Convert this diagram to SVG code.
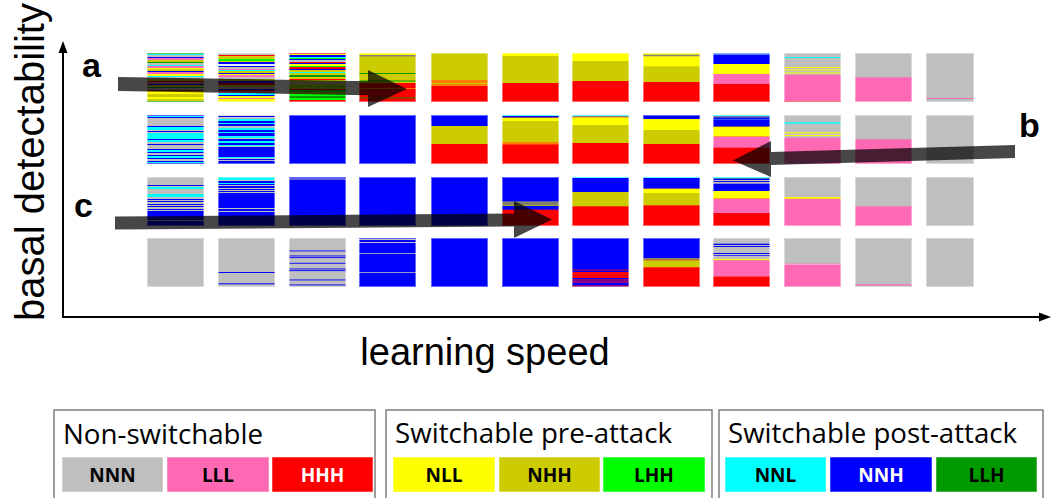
<svg xmlns="http://www.w3.org/2000/svg" width="1056" height="498" viewBox="0 0 1056 498">
<style>
.g{fill:#bfbfbf}.p{fill:#ff69b4}.r{fill:#ff0000}.y{fill:#ffff00}.o{fill:#cccc00}.l{fill:#00ff00}.c{fill:#00ffff}.b{fill:#0000ff}.d{fill:#009900}.k{fill:#808080}.n{fill:#ff8000}.v{fill:#8b008b}.w{fill:#e6f2ff}.s{fill:#3f7fff}.q{fill:#ff9fd0}
.edge{fill:none;stroke:#fff;stroke-opacity:.4;stroke-width:1}
.arrow{fill:#000;fill-opacity:.72}
.axis{stroke:#000;stroke-width:2;fill:none}
.lbl{font-family:"Liberation Sans",Arial,sans-serif;fill:#000}
.ab{font-family:"Liberation Sans",Arial,sans-serif;font-weight:bold;font-size:34px;fill:#000}
.lt{font-family:"Open Sans","Noto Sans",sans-serif;font-size:27px;fill:#000}
.sw{font-family:"Open Sans","Noto Sans",sans-serif;font-weight:bold;font-size:19px;text-anchor:middle}
.box{fill:#fff;stroke:#7f7f7f;stroke-width:1.5}
.swe{stroke:#fff;stroke-opacity:.5;stroke-width:1}
</style>

<g id="axes">
<line class="axis" x1="63" y1="318" x2="63" y2="50"/>
<polygon points="63,41 58.5,53 67.5,53" fill="#000"/>
<line class="axis" x1="62" y1="317" x2="1042" y2="317"/>
<polygon points="1051,317 1039,312.5 1039,321.5" fill="#000"/>
<text class="lbl" font-size="40" text-anchor="middle" transform="translate(44,162) rotate(-90)">basal detectability</text>
<text class="lbl" font-size="38" text-anchor="middle" x="485" y="365">learning speed</text>
</g>

<g id="grid">
<!-- Row 1 -->
<g id="r1c1" transform="translate(147,53)">
<rect width="57" height="49" class="o"/>
<rect y="0" width="57" height="1" class="d"/><rect y="1" width="57" height="1" class="c"/><rect y="2" width="57" height="2" class="g"/><rect y="4" width="57" height="1" class="b"/><rect y="5" width="57" height="2" class="p"/><rect y="7" width="57" height="2" class="o"/><rect y="9" width="57" height="1" class="d"/><rect y="10" width="57" height="2" class="g"/><rect y="12" width="57" height="1" class="c"/><rect y="13" width="57" height="2" class="p"/><rect y="15" width="57" height="1" class="y"/><rect y="16" width="57" height="2" class="o"/><rect y="18" width="57" height="1" class="b"/><rect y="19" width="57" height="2" class="p"/><rect y="21" width="57" height="2" class="y"/><rect y="23" width="57" height="1" class="c"/><rect y="24" width="57" height="2" class="g"/><rect y="26" width="57" height="2" class="o"/><rect y="28" width="57" height="1" class="r"/><rect y="29" width="57" height="2" class="p"/><rect y="31" width="57" height="1" class="b"/><rect y="32" width="57" height="2" class="o"/><rect y="34" width="57" height="1" class="d"/><rect y="35" width="57" height="2" class="g"/><rect y="37" width="57" height="1" class="r"/><rect y="38" width="57" height="3" class="y"/><rect y="41" width="57" height="3" class="o"/><rect y="44" width="57" height="2" class="y"/><rect y="46" width="57" height="2" class="o"/><rect y="48" width="57" height="1" class="d"/>
<rect class="edge" x="0.5" y="0.5" width="56" height="48"/>
</g>
<g id="r1c2" transform="translate(218,53)">
<rect width="57" height="49" class="y"/>
<rect y="0" width="57" height="2" class="g"/><rect y="2" width="57" height="1" class="r"/><rect y="3" width="57" height="3" class="o"/><rect y="6" width="57" height="2" class="l"/><rect y="8" width="57" height="1" class="o"/><rect y="9" width="57" height="2" class="b"/><rect y="11" width="57" height="2" class="w"/><rect y="13" width="57" height="1" class="b"/><rect y="14" width="57" height="2" class="g"/><rect y="16" width="57" height="1" class="p"/><rect y="17" width="57" height="1" class="c"/><rect y="18" width="57" height="2" class="o"/><rect y="20" width="57" height="1" class="b"/><rect y="21" width="57" height="1" class="y"/><rect y="22" width="57" height="2" class="p"/><rect y="24" width="57" height="2" class="g"/><rect y="26" width="57" height="2" class="o"/><rect y="28" width="57" height="2" class="b"/><rect y="30" width="57" height="2" class="r"/><rect y="32" width="57" height="2" class="o"/><rect y="34" width="57" height="2" class="g"/><rect y="36" width="57" height="1" class="b"/><rect y="37" width="57" height="1" class="r"/><rect y="38" width="57" height="2" class="p"/><rect y="40" width="57" height="2" class="c"/><rect y="42" width="57" height="1" class="b"/><rect y="43" width="57" height="2" class="y"/><rect y="45" width="57" height="1" class="p"/>
<rect class="edge" x="0.5" y="0.5" width="56" height="48"/>
</g>
<g id="r1c3" transform="translate(289,53)">
<rect width="57" height="49" class="o"/>
<rect y="0" width="57" height="1" class="r"/><rect y="1" width="57" height="1" class="y"/><rect y="2" width="57" height="2" class="b"/><rect y="4" width="57" height="1" class="c"/><rect y="5" width="57" height="1" class="l"/><rect y="6" width="57" height="1" class="b"/><rect y="7" width="57" height="2" class="g"/><rect y="9" width="57" height="1" class="r"/><rect y="10" width="57" height="1" class="b"/><rect y="11" width="57" height="2" class="y"/><rect y="13" width="57" height="1" class="l"/><rect y="14" width="57" height="2" class="r"/><rect y="16" width="57" height="1" class="b"/><rect y="19" width="57" height="1" class="c"/><rect y="22" width="57" height="2" class="d"/><rect y="26" width="57" height="1" class="r"/><rect y="29" width="57" height="2" class="g"/><rect y="33" width="57" height="1" class="l"/><rect y="36" width="57" height="1" class="r"/><rect y="37" width="57" height="2" class="l"/><rect y="41" width="57" height="2" class="l"/><rect y="43" width="57" height="2" class="d"/><rect y="45" width="57" height="2" class="l"/><rect y="47" width="57" height="2" class="r"/>
<rect class="edge" x="0.5" y="0.5" width="56" height="48"/>
</g>
<g id="r1c4" transform="translate(359,53)">
<rect width="57" height="49" class="o"/>
<rect y="0" width="57" height="2" class="y"/><rect y="2" width="57" height="1.4" class="k"/><rect y="20" width="57" height="1" class="d"/><rect y="27.5" width="57" height="1" class="d"/><rect y="30" width="57" height="19" class="r"/><rect y="35" width="57" height="1" class="n"/><rect y="44.5" width="57" height="0.8" class="d"/>
<rect class="edge" x="0.5" y="0.5" width="56" height="48"/>
</g>
<g id="r1c5" transform="translate(431,53)">
<rect width="57" height="49" class="o"/>
<rect y="27" width="57" height="3" class="n"/><rect y="31" width="57" height="2" class="n"/><rect y="33" width="57" height="16" class="r"/>
<rect class="edge" x="0.5" y="0.5" width="56" height="48"/>
</g>
<g id="r1c6" transform="translate(502,53)">
<rect width="57" height="49" class="o"/>
<rect y="0" width="57" height="3" class="y"/><rect y="30" width="57" height="19" class="r"/>
<rect class="edge" x="0.5" y="0.5" width="56" height="48"/>
</g>
<g id="r1c7" transform="translate(572,53)">
<rect width="57" height="49" class="o"/>
<rect y="0" width="57" height="8" class="y"/><rect y="28" width="57" height="21" class="r"/>
<rect class="edge" x="0.5" y="0.5" width="56" height="48"/>
</g>
<g id="r1c8" transform="translate(643,53)">
<rect width="57" height="49" class="o"/>
<rect y="0" width="57" height="13.3" class="y"/><rect y="1.7" width="57" height="1.6" class="k"/><rect y="29" width="57" height="20" class="r"/>
<rect class="edge" x="0.5" y="0.5" width="56" height="48"/>
</g>
<g id="r1c9" transform="translate(713,53)">
<rect width="57" height="49" class="r"/>
<rect y="0" width="57" height="2" class="s"/><rect y="2" width="57" height="9" class="b"/><rect y="11" width="57" height="10" class="y"/><rect y="21" width="57" height="10" class="p"/>
<rect class="edge" x="0.5" y="0.5" width="56" height="48"/>
</g>
<g id="r1c10" transform="translate(784,53)">
<rect width="57" height="49" class="g"/>
<rect y="4" width="57" height="1" class="c"/><rect y="14" width="57" height="1" class="y"/><rect y="16.5" width="57" height="1" class="y"/><rect y="19.5" width="57" height="1" class="y"/><rect y="21.7" width="57" height="26.5" class="p"/><rect y="48.2" width="57" height="0.8" class="r"/>
<rect class="edge" x="0.5" y="0.5" width="56" height="48"/>
</g>
<g id="r1c11" transform="translate(855,53)">
<rect width="57" height="49" class="g"/>
<rect y="24.3" width="57" height="24.7" class="p"/>
<rect class="edge" x="0.5" y="0.5" width="56" height="48"/>
</g>
<g id="r1c12" transform="translate(926,53)">
<rect width="48" height="49" class="g"/>
<rect y="45" width="48" height="1" class="p"/>
<rect class="edge" x="0.5" y="0.5" width="47" height="48"/>
</g>

<!-- Row 2 -->
<g id="r2c1" transform="translate(147,115)">
<rect width="57" height="49" class="g"/>
<rect y="0" width="57" height="1" class="b"/><rect y="1" width="57" height="1" class="c"/><rect y="2" width="57" height="1" class="b"/><rect y="11" width="57" height="1" class="b"/><rect y="12" width="57" height="3" class="c"/><rect y="16" width="57" height="1" class="b"/><rect y="18" width="57" height="6" class="c"/><rect y="24" width="57" height="1" class="b"/><rect y="25" width="57" height="2" class="c"/><rect y="29" width="57" height="1" class="b"/><rect y="34" width="57" height="1" class="b"/><rect y="35" width="57" height="2" class="c"/><rect y="37" width="57" height="1" class="b"/><rect y="40" width="57" height="1" class="b"/><rect y="41" width="57" height="2" class="c"/><rect y="43" width="57" height="1" class="b"/><rect y="46" width="57" height="1" class="b"/><rect y="47" width="57" height="1" class="c"/><rect y="48" width="57" height="1" class="b"/>
<rect class="edge" x="0.5" y="0.5" width="56" height="48"/>
</g>
<g id="r2c2" transform="translate(218,115)">
<rect width="57" height="49" class="b"/>
<rect y="0" width="57" height="1" class="g"/><rect y="2" width="57" height="2" class="g"/><rect y="4" width="57" height="2" class="c"/><rect y="8" width="57" height="1" class="c"/><rect y="11" width="57" height="2" class="g"/><rect y="13" width="57" height="2" class="c"/><rect y="17" width="57" height="1" class="c"/><rect y="21" width="57" height="2" class="c"/><rect y="23" width="57" height="1" class="g"/><rect y="26" width="57" height="2" class="c"/><rect y="30" width="57" height="1" class="c"/><rect y="31" width="57" height="1" class="g"/><rect y="42" width="57" height="1" class="c"/><rect y="43" width="57" height="1" class="g"/><rect y="45" width="57" height="1" class="g"/>
<rect class="edge" x="0.5" y="0.5" width="56" height="48"/>
</g>
<g id="r2c3" transform="translate(289,115)">
<rect width="57" height="49" class="b"/>
<rect class="edge" x="0.5" y="0.5" width="56" height="48"/>
</g>
<g id="r2c4" transform="translate(359,115)">
<rect width="57" height="49" class="b"/>
<rect class="edge" x="0.5" y="0.5" width="56" height="48"/>
</g>
<g id="r2c5" transform="translate(431,115)">
<rect width="57" height="49" class="r"/>
<rect y="0" width="57" height="11" class="b"/><rect y="11" width="57" height="18" class="o"/>
<rect class="edge" x="0.5" y="0.5" width="56" height="48"/>
</g>
<g id="r2c6" transform="translate(502,115)">
<rect width="57" height="49" class="r"/>
<rect y="0" width="57" height="1" class="c"/><rect y="1" width="57" height="1.7" class="b"/><rect y="2.7" width="57" height="3.3" class="y"/><rect y="6" width="57" height="21" class="o"/><rect y="27" width="57" height="2.5" class="n"/>
<rect class="edge" x="0.5" y="0.5" width="56" height="48"/>
</g>
<g id="r2c7" transform="translate(572,115)">
<rect width="57" height="49" class="r"/>
<rect y="0" width="57" height="1" class="c"/><rect y="1" width="57" height="1.3" class="k"/><rect y="2.3" width="57" height="7.7" class="y"/><rect y="10" width="57" height="18" class="o"/>
<rect class="edge" x="0.5" y="0.5" width="56" height="48"/>
</g>
<g id="r2c8" transform="translate(643,115)">
<rect width="57" height="49" class="r"/>
<rect y="0" width="57" height="4" class="b"/><rect y="4" width="57" height="11" class="y"/><rect y="15" width="57" height="14" class="o"/>
<rect class="edge" x="0.5" y="0.5" width="56" height="48"/>
</g>
<g id="r2c9" transform="translate(713,115)">
<rect width="57" height="49" class="r"/>
<rect y="0" width="57" height="1.5" class="c"/><rect y="1.5" width="57" height="1.2" class="s"/><rect y="2.7" width="57" height="9" class="b"/><rect y="4" width="57" height="0.7" class="s"/><rect y="11.7" width="57" height="10" class="y"/><rect y="21.7" width="57" height="11" class="p"/>
<rect class="edge" x="0.5" y="0.5" width="56" height="48"/>
</g>
<g id="r2c10" transform="translate(784,115)">
<rect width="57" height="49" class="g"/>
<rect y="7.3" width="57" height="1.4" class="c"/><rect y="17.3" width="57" height="1" class="y"/><rect y="20" width="57" height="1" class="y"/><rect y="22.7" width="57" height="26.3" class="p"/>
<rect class="edge" x="0.5" y="0.5" width="56" height="48"/>
</g>
<g id="r2c11" transform="translate(855,115)">
<rect width="57" height="49" class="g"/>
<rect y="24.3" width="57" height="24.7" class="p"/>
<rect class="edge" x="0.5" y="0.5" width="56" height="48"/>
</g>
<g id="r2c12" transform="translate(926,115)">
<rect width="48" height="49" class="g"/>
<rect class="edge" x="0.5" y="0.5" width="47" height="48"/>
</g>

<!-- Row 3 -->
<g id="r3c1" transform="translate(147,177)">
<rect width="57" height="49" class="b"/>
<rect y="0" width="57" height="8" class="g"/><rect y="9" width="57" height="1" class="g"/><rect y="10" width="57" height="2" class="c"/><rect y="12" width="57" height="5" class="g"/><rect y="17" width="57" height="3" class="c"/><rect y="20" width="57" height="2" class="g"/><rect y="23" width="57" height="1" class="g"/><rect y="25" width="57" height="2" class="g"/><rect y="28" width="57" height="1" class="g"/><rect y="30" width="57" height="2" class="g"/><rect y="33" width="57" height="1" class="g"/><rect y="43" width="57" height="1" class="g"/>
<rect class="edge" x="0.5" y="0.5" width="56" height="48"/>
</g>
<g id="r3c2" transform="translate(218,177)">
<rect width="57" height="49" class="b"/>
<rect y="0" width="57" height="3" class="c"/><rect y="3" width="57" height="1" class="g"/><rect y="6" width="57" height="1" class="c"/><rect y="8" width="57" height="1" class="g"/><rect y="11" width="57" height="1" class="g"/><rect y="13" width="57" height="1" class="g"/><rect y="15" width="57" height="1" class="g"/><rect y="31" width="57" height="1" class="g"/><rect y="34" width="57" height="1" class="g"/>
<rect class="edge" x="0.5" y="0.5" width="56" height="48"/>
</g>
<g id="r3c3" transform="translate(289,177)">
<rect width="57" height="49" class="b"/>
<rect y="1.5" width="57" height="1" class="g"/>
<rect class="edge" x="0.5" y="0.5" width="56" height="48"/>
</g>
<g id="r3c4" transform="translate(359,177)">
<rect width="57" height="49" class="b"/>
<rect class="edge" x="0.5" y="0.5" width="56" height="48"/>
</g>
<g id="r3c5" transform="translate(431,177)">
<rect width="57" height="49" class="b"/>
<rect class="edge" x="0.5" y="0.5" width="56" height="48"/>
</g>
<g id="r3c6" transform="translate(502,177)">
<rect width="57" height="49" class="r"/>
<rect y="0" width="57" height="32.7" class="b"/><rect y="24.3" width="57" height="1.2" class="k"/><rect y="25.5" width="57" height="1" class="o"/><rect y="26.5" width="57" height="1" class="k"/><rect y="27.5" width="57" height="1.3" class="o"/>
<rect class="edge" x="0.5" y="0.5" width="56" height="48"/>
</g>
<g id="r3c7" transform="translate(572,177)">
<rect width="57" height="49" class="r"/>
<rect y="0" width="57" height="1" class="c"/><rect y="1" width="57" height="14" class="b"/><rect y="15" width="57" height="14.3" class="o"/>
<rect class="edge" x="0.5" y="0.5" width="56" height="48"/>
</g>
<g id="r3c8" transform="translate(643,177)">
<rect width="57" height="49" class="r"/>
<rect y="0" width="57" height="1" class="c"/><rect y="1" width="57" height="10.7" class="b"/><rect y="11.7" width="57" height="4.3" class="y"/><rect y="16" width="57" height="12.3" class="o"/>
<rect class="edge" x="0.5" y="0.5" width="56" height="48"/>
</g>
<g id="r3c9" transform="translate(713,177)">
<rect width="57" height="49" class="r"/>
<rect y="0" width="57" height="1.7" class="c"/><rect y="1.7" width="57" height="12.3" class="b"/><rect y="3" width="57" height="1" class="g"/><rect y="5" width="57" height="1.7" class="g"/><rect y="14" width="57" height="7.7" class="y"/><rect y="21.7" width="57" height="14.3" class="p"/>
<rect class="edge" x="0.5" y="0.5" width="56" height="48"/>
</g>
<g id="r3c10" transform="translate(784,177)">
<rect width="57" height="49" class="p"/>
<rect y="0" width="57" height="20" class="g"/><rect y="20" width="57" height="1.7" class="y"/>
<rect class="edge" x="0.5" y="0.5" width="56" height="48"/>
</g>
<g id="r3c11" transform="translate(855,177)">
<rect width="57" height="49" class="p"/>
<rect y="0" width="57" height="29.3" class="g"/>
<rect class="edge" x="0.5" y="0.5" width="56" height="48"/>
</g>
<g id="r3c12" transform="translate(926,177)">
<rect width="48" height="49" class="g"/>
<rect class="edge" x="0.5" y="0.5" width="47" height="48"/>
</g>

<!-- Row 4 -->
<g id="r4c1" transform="translate(147,238)">
<rect width="57" height="49" class="g"/>
<rect class="edge" x="0.5" y="0.5" width="56" height="48"/>
</g>
<g id="r4c2" transform="translate(218,238)">
<rect width="57" height="49" class="g"/>
<rect y="34" width="57" height="1" class="b"/><rect y="45.3" width="57" height="1" class="b"/>
<rect class="edge" x="0.5" y="0.5" width="56" height="48"/>
</g>
<g id="r4c3" transform="translate(289,238)">
<rect width="57" height="49" class="g"/>
<rect y="12.5" width="57" height="0.9" class="b"/><rect y="17.5" width="57" height="0.9" class="b"/><rect y="19.2" width="57" height="0.9" class="b"/><rect y="24.8" width="57" height="0.9" class="b"/><rect y="30.5" width="57" height="0.9" class="b"/><rect y="32.2" width="57" height="0.9" class="b"/><rect y="41.5" width="57" height="0.9" class="b"/><rect y="46.5" width="57" height="0.9" class="b"/>
<rect class="edge" x="0.5" y="0.5" width="56" height="48"/>
</g>
<g id="r4c4" transform="translate(359,238)">
<rect width="57" height="49" class="b"/>
<rect y="1" width="57" height="1" class="g"/><rect y="4" width="57" height="1" class="g"/><rect y="15" width="57" height="0.8" class="g"/><rect y="34" width="57" height="0.8" class="g"/>
<rect class="edge" x="0.5" y="0.5" width="56" height="48"/>
</g>
<g id="r4c5" transform="translate(431,238)">
<rect width="57" height="49" class="b"/>
<rect class="edge" x="0.5" y="0.5" width="56" height="48"/>
</g>
<g id="r4c6" transform="translate(502,238)">
<rect width="57" height="49" class="b"/>
<rect class="edge" x="0.5" y="0.5" width="56" height="48"/>
</g>
<g id="r4c7" transform="translate(572,238)">
<rect width="57" height="49" class="b"/>
<rect y="31.7" width="57" height="0.8" class="r"/><rect y="34" width="57" height="6" class="r"/><rect y="41" width="57" height="4" class="v"/><rect y="47.5" width="57" height="1" class="r"/>
<rect class="edge" x="0.5" y="0.5" width="56" height="48"/>
</g>
<g id="r4c8" transform="translate(643,238)">
<rect width="57" height="49" class="r"/>
<rect y="0" width="57" height="20" class="b"/><rect y="20" width="57" height="1" class="k"/><rect y="21" width="57" height="0.5" class="o"/><rect y="21.5" width="57" height="0.8" class="k"/><rect y="22.3" width="57" height="7" class="o"/>
<rect class="edge" x="0.5" y="0.5" width="56" height="48"/>
</g>
<g id="r4c9" transform="translate(713,238)">
<rect width="57" height="49" class="r"/>
<rect y="0" width="57" height="38.3" class="g"/><rect y="5.7" width="57" height="1.3" class="b"/><rect y="8" width="57" height="1" class="b"/><rect y="15" width="57" height="1" class="b"/><rect y="17" width="57" height="0.7" class="b"/><rect y="21" width="57" height="1.3" class="y"/><rect y="22.3" width="57" height="16" class="p"/>
<rect class="edge" x="0.5" y="0.5" width="56" height="48"/>
</g>
<g id="r4c10" transform="translate(784,238)">
<rect width="57" height="49" class="p"/>
<rect y="0" width="57" height="25.7" class="g"/><rect y="25.7" width="57" height="1.3" class="q"/>
<rect class="edge" x="0.5" y="0.5" width="56" height="48"/>
</g>
<g id="r4c11" transform="translate(855,238)">
<rect width="57" height="49" class="g"/>
<rect y="46.3" width="57" height="1.2" class="p"/>
<rect class="edge" x="0.5" y="0.5" width="56" height="48"/>
</g>
<g id="r4c12" transform="translate(926,238)">
<rect width="48" height="49" class="g"/>
<rect class="edge" x="0.5" y="0.5" width="47" height="48"/>
</g>
</g>

<g id="connectors">
<polygon class="arrow" points="118,77 368,81.3 368,70 407,89 368,107 368,95.3 118,91"/>
<polygon class="arrow" points="1015,145 771,152 771,141 733,160.5 771,177 771,165 1015,158"/>
<polygon class="arrow" points="115,216.5 514,213.5 514,201 552,219.5 514,238 514,226.5 115,229.5"/>
</g>

<g id="labels">
<text class="ab" x="82" y="77">a</text>
<text class="ab" x="1019" y="137">b</text>
<text class="ab" x="74" y="217">c</text>
</g>

<g id="legend-nonswitchable">
<rect class="box" x="54" y="410" width="321" height="100"/>
<text class="lt" x="63" y="444" textLength="200" lengthAdjust="spacingAndGlyphs">Non-switchable</text>
<rect x="62" y="457" width="101" height="35" class="g swe"/>
<rect x="167" y="457" width="102" height="35" class="p swe"/>
<rect x="272" y="457" width="101" height="35" class="r swe"/>
<text class="sw" x="112.5" y="482" fill="#000">NNN</text>
<text class="sw" x="218" y="482" fill="#000">LLL</text>
<text class="sw" x="322.5" y="482" fill="#fff">HHH</text>
</g>
<g id="legend-pre">
<rect class="box" x="386" y="410" width="326" height="100"/>
<text class="lt" x="395" y="443" textLength="277" lengthAdjust="spacingAndGlyphs">Switchable pre-attack</text>
<rect x="393" y="457" width="102" height="35" class="y swe"/>
<rect x="499" y="457" width="101" height="35" class="o swe"/>
<rect x="603" y="457" width="102" height="35" class="l swe"/>
<text class="sw" x="444" y="482" fill="#000">NLL</text>
<text class="sw" x="549.5" y="482" fill="#000">NHH</text>
<text class="sw" x="654" y="482" fill="#000">LHH</text>
</g>
<g id="legend-post">
<rect class="box" x="719" y="410" width="324" height="100"/>
<text class="lt" x="728" y="443" textLength="289" lengthAdjust="spacingAndGlyphs">Switchable post-attack</text>
<rect x="725" y="457" width="101" height="35" class="c swe"/>
<rect x="830" y="457" width="102" height="35" class="b swe"/>
<rect x="936" y="457" width="101" height="35" class="d swe"/>
<text class="sw" x="775.5" y="482" fill="#000">NNL</text>
<text class="sw" x="881" y="482" fill="#fff">NNH</text>
<text class="sw" x="986.5" y="482" fill="#000">LLH</text>
</g>
</svg>
